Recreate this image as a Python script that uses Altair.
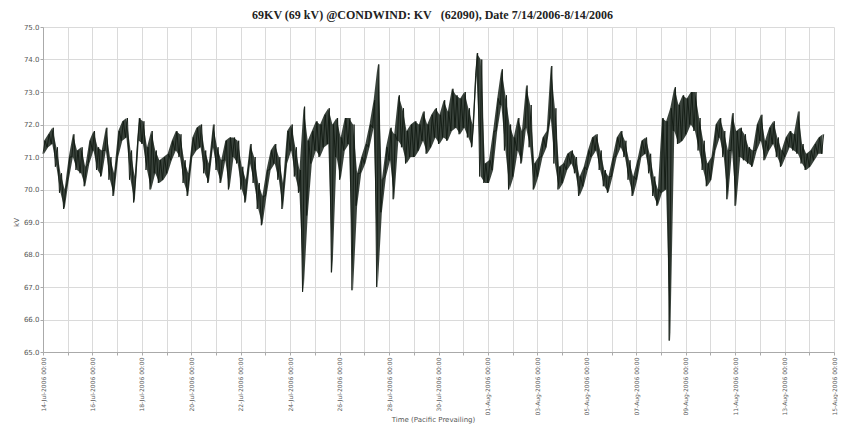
import altair as alt
import pandas as pd

title_text = "69KV (69 kV) @CONDWIND: KV\u00a0\u00a0\u00a0(62090), Date 7/14/2006-8/14/2006"
x_title = "Time (Pacific Prevailing)"
y_title = "kV"
start = "2006-07-14 00:00"
step_hours = 4

# lower / upper edge of the trace in each 4-hour step (kV)
lows = [
    71.1, 71.3, 71.4, 70.7, 69.9, 69.4,
    70.3, 71.0, 70.6, 70.5, 70.1, 70.8,
    71.2, 70.6, 70.4, 71.2, 70.3, 69.8,
    71.0, 71.5, 71.6, 70.3, 69.6, 71.5,
    71.4, 70.6, 70.0, 70.5, 70.2, 70.3,
    70.5, 70.9, 71.2, 71.0, 70.2, 69.8,
    71.0, 71.2, 71.3, 70.5, 70.2, 71.3,
    70.6, 70.2, 70.9, 70.0, 71.0, 70.8,
    70.0, 69.6, 70.8, 70.2, 69.4, 68.9,
    69.8, 70.6, 70.8, 70.3, 69.4, 70.8,
    71.2, 70.4, 69.9, 66.85, 69.2, 70.8,
    71.2, 71.0, 71.3, 71.4, 67.45, 71.0,
    70.3, 71.2, 71.4, 66.9, 69.5, 70.5,
    70.8, 71.3, 71.9, 67.0, 69.3, 70.4,
    70.9, 69.7, 71.5, 71.3, 70.8, 71.0,
    71.0, 71.2, 71.5, 71.1, 71.3, 71.6,
    71.4, 71.6, 71.5, 71.8, 71.9, 71.7,
    71.9, 71.6, 71.3, 73.5, 70.4, 70.2,
    70.2, 70.6, 71.8, 72.6, 71.2, 70.0,
    70.4, 71.2, 70.8, 71.9, 71.3, 70.0,
    70.4, 71.0, 71.3, 72.2, 70.8, 70.0,
    70.2, 70.6, 70.8, 70.5, 69.8, 70.1,
    70.6, 71.0, 71.2, 70.6, 70.1, 69.9,
    70.4, 71.0, 71.3, 71.0, 70.3, 69.8,
    70.3, 71.0, 71.1, 70.5, 69.8, 69.5,
    69.9, 70.0, 65.35, 71.8, 71.4, 71.5,
    71.7, 72.0, 71.8, 71.2, 70.6, 70.1,
    70.3, 71.2, 71.6, 71.0, 69.7, 71.2,
    69.5, 71.0, 70.9, 70.8, 70.7, 71.2,
    71.5, 70.9, 71.2, 71.4, 71.0, 70.7,
    71.0, 71.3, 71.2, 71.1, 70.8, 70.6,
    70.7, 70.9, 71.1, 71.1,
]
highs = [
    71.5, 71.7, 71.9, 71.3, 70.5, 70.0,
    71.0, 71.7, 71.2, 71.3, 70.7, 71.5,
    71.8, 71.3, 71.2, 71.9, 71.0, 70.5,
    71.8, 72.1, 72.2, 71.2, 70.4, 72.2,
    72.1, 71.3, 71.8, 71.2, 70.9, 71.0,
    71.1, 71.5, 71.8, 71.7, 70.9, 70.5,
    71.6, 71.9, 72.0, 71.2, 70.8, 72.0,
    71.3, 70.9, 71.5, 71.6, 71.6, 71.5,
    70.7, 70.3, 71.4, 71.0, 70.2, 69.8,
    70.6, 71.2, 71.4, 71.0, 70.2, 71.8,
    72.0, 71.3, 70.6, 72.55, 71.5, 71.8,
    72.1, 72.0, 72.3, 72.5, 72.0, 72.2,
    71.6, 72.2, 72.2, 72.0, 70.5, 71.0,
    71.4, 72.0, 72.75, 73.85, 70.3, 71.3,
    71.9, 71.7, 72.9, 72.5, 71.8, 72.0,
    72.1, 72.0, 72.4, 72.0, 72.3, 72.5,
    72.3, 72.75, 72.4, 73.1, 72.9, 72.8,
    73.0, 72.5, 72.0, 74.2, 74.0, 70.8,
    70.9, 71.8, 72.8, 73.7, 72.9, 72.0,
    71.6, 72.2, 71.8, 73.2, 72.6, 70.8,
    71.0, 71.6, 71.8, 73.8, 72.5, 70.7,
    70.8, 71.1, 71.2, 71.0, 70.4, 70.7,
    71.2, 71.6, 71.7, 71.2, 70.6, 70.4,
    71.0, 71.6, 71.8, 71.5, 70.9, 70.4,
    70.9, 71.5, 71.6, 71.1, 70.4, 70.0,
    72.2, 72.1, 72.5, 73.15, 72.6, 72.9,
    72.8, 73.0, 73.0, 72.2, 71.5, 70.8,
    71.0, 72.0, 72.2, 71.8, 71.2, 72.35,
    71.8, 71.9, 71.7, 71.3, 71.2, 72.0,
    72.3, 71.5, 71.9, 72.1, 71.6, 71.2,
    71.6, 71.8, 71.7, 72.4, 71.4, 71.1,
    71.2, 71.4, 71.6, 71.7,
]
y_ticks = [65.0, 66.0, 67.0, 68.0, 69.0, 70.0, 71.0, 72.0, 73.0, 74.0, 75.0]
x_days = pd.date_range("2006-07-14", "2006-08-15", freq="D")

t0 = pd.Timestamp(start)
fmt = "%Y-%m-%dT%H:%M:%S"
line_rows = []
band_rows = []
for i, (lo, hi) in enumerate(zip(lows, highs)):
    ti = t0 + pd.Timedelta(hours=step_hours * i)
    line_rows.append({"t": ti.strftime(fmt), "kv": lo})
    line_rows.append({"t": (ti + pd.Timedelta(hours=step_hours / 2)).strftime(fmt), "kv": hi})
    band_rows.append({"t": (ti + pd.Timedelta(hours=step_hours / 4)).strftime(fmt), "lo": lo, "hi": hi})
line_df = pd.DataFrame(line_rows)
band_df = pd.DataFrame(band_rows)

day_vals = [alt.DateTime(year=d.year, month=d.month, date=d.day) for d in x_days]

label_expr = ("round((datum.value - datetime(2006,6,14)) / 86400000) % 2 == 0 ? "
              "timeFormat(datum.value, '%d-%b-%Y %H:%M') : ''")

x_scale = alt.Scale(domain=[day_vals[0], day_vals[-1]], nice=False)
x_axis = alt.Axis(values=day_vals, labelExpr=label_expr, title=x_title,
                  labelAngle=270, labelAlign="right", labelBaseline="middle",
                  labelFontSize=6, labelColor="#5a5a5a", labelPadding=2,
                  tickSize=3, tickColor="#aaaaaa", domainColor="#aaaaaa",
                  gridColor="#dadada", labelOverlap=False, labelFlush=False,
                  titleFontSize=7, titleFontWeight="normal", titleColor="#555555",
                  titleX=390, titleY=69, titleBaseline="alphabetic")
y_scale = alt.Scale(domain=[65, 75], nice=False, zero=False)
y_axis = alt.Axis(values=y_ticks, format=".1f", title=y_title,
                  labelFontSize=7, labelColor="#555555", labelPadding=1,
                  tickSize=3, tickColor="#aaaaaa", domainColor="#aaaaaa",
                  gridColor="#dadada", labelOverlap=False,
                  titleFontSize=7, titleFontWeight="normal", titleColor="#555555",
                  titleAngle=270, titleX=-27, titleY=195,
                  titleAlign="center", titleBaseline="middle")

band = alt.Chart(band_df).mark_area(color="#17221a", opacity=0.85).encode(
    x=alt.X("t:T", scale=x_scale, axis=x_axis),
    y=alt.Y("lo:Q", scale=y_scale, axis=y_axis),
    y2="hi:Q",
)
line = alt.Chart(line_df).mark_line(color="#111a12", strokeWidth=0.9).encode(
    x=alt.X("t:T", scale=x_scale, axis=x_axis),
    y=alt.Y("kv:Q", scale=y_scale, axis=y_axis),
)

chart = alt.layer(band, line).properties(
    width=791,
    height=325,
    padding={"left": 35, "top": 19, "right": 4, "bottom": 72},
    autosize=alt.AutoSizeParams(type="none"),
    title=alt.TitleParams(title_text, font="Liberation Serif", fontSize=12,
                          fontWeight="bold", color="#222222", offset=1, anchor="middle", dx=-6),
).configure_view(strokeWidth=0).configure_axis(
    labelFont="DejaVu Sans", titleFont="DejaVu Sans"
)

chart.save("out.html", embed_options={"renderer": "svg", "actions": False})
